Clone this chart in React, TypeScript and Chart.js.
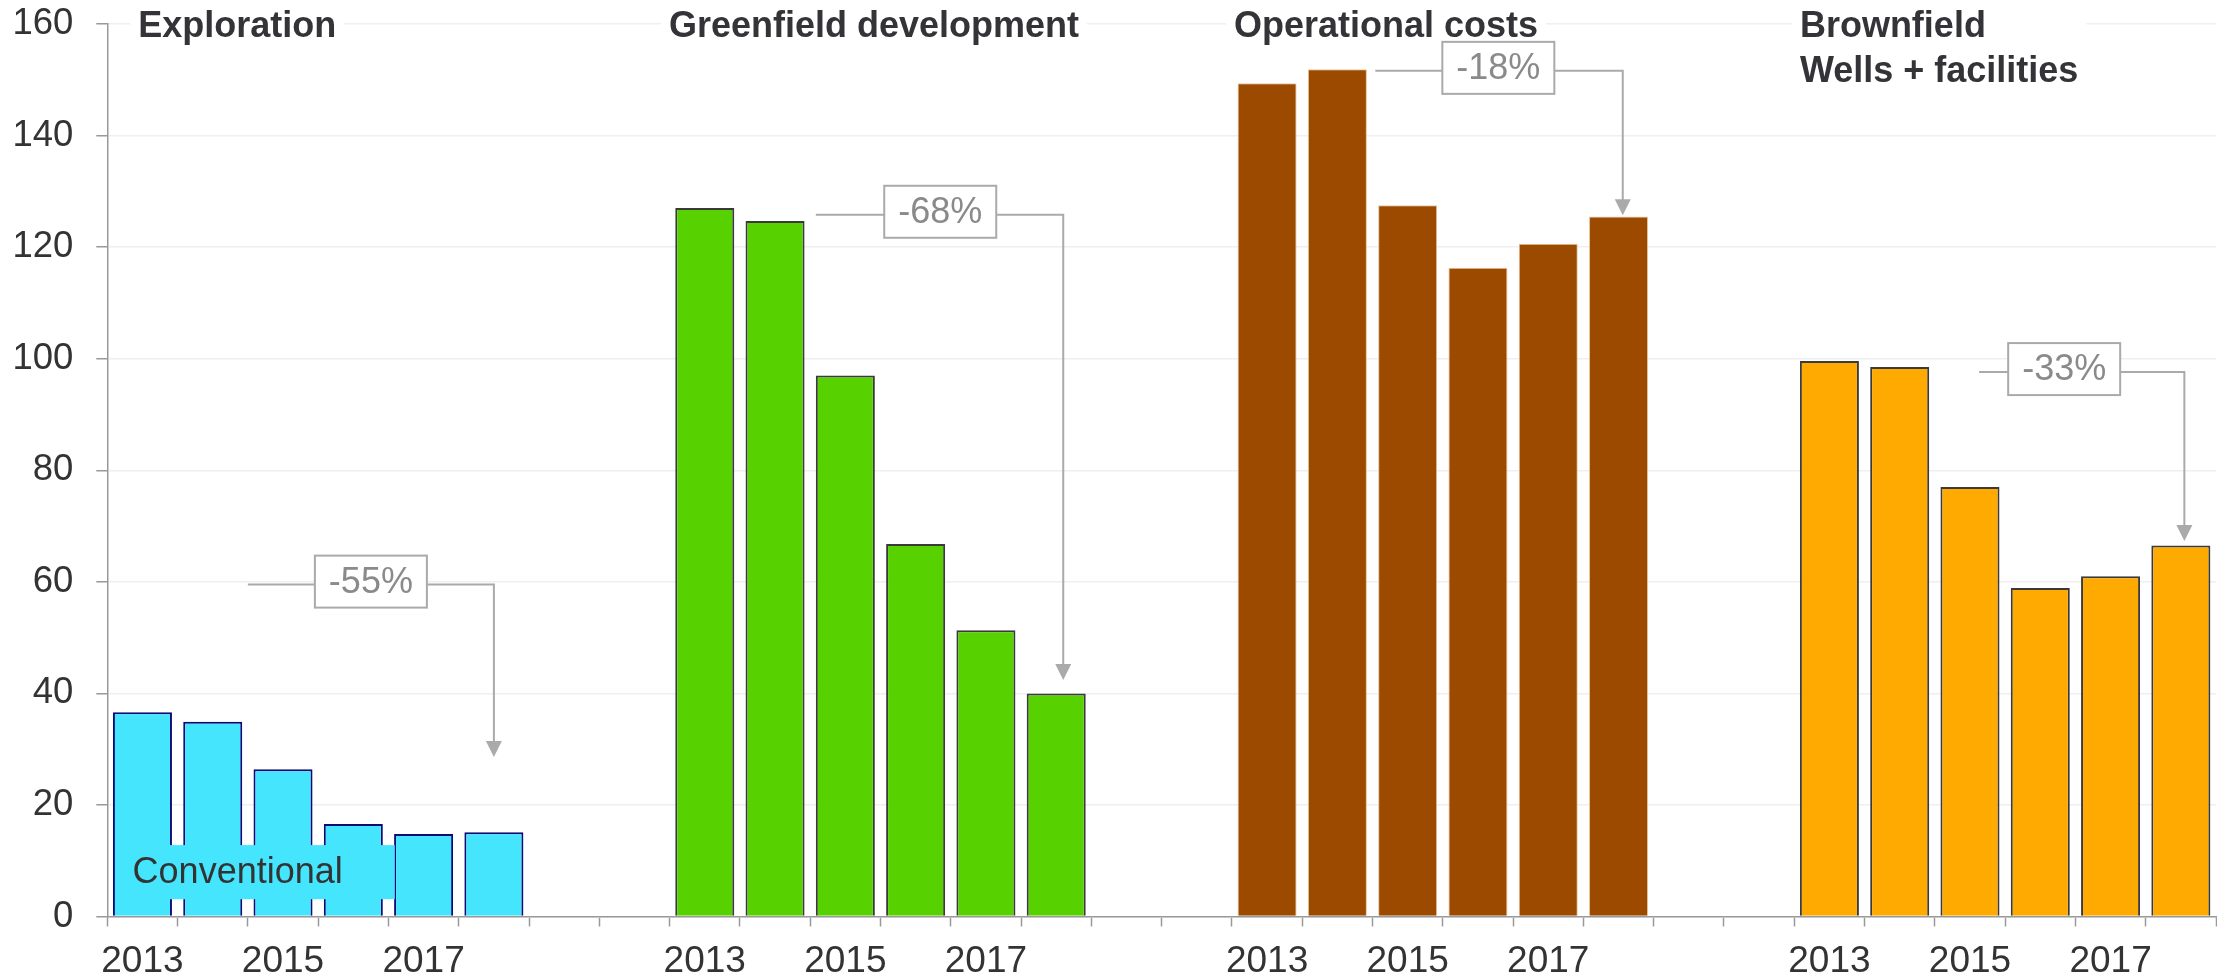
import React, { useEffect, useRef } from "react";
import { Chart, registerables } from "chart.js";

Chart.register(...registerables);

// ---------- data ----------
const years = ["2013", "2014", "2015", "2016", "2017", "2018"];
const shownYears = ["2013", "2015", "2017"];
const exploration = [36.6, 34.9, 26.4, 16.6, 14.8, 15.1];
const greenfield = [127.0, 124.7, 97.0, 66.8, 51.3, 40.0];
const operational = [149.4, 151.9, 127.5, 116.3, 120.6, 125.5];
const brownfield = [99.6, 98.5, 77.0, 58.9, 61.0, 66.5];
const groupTitles = [
  ["Exploration"],
  ["Greenfield development"],
  ["Operational costs"],
  ["Brownfield", "Wells + facilities"],
];
const yTicks = [0, 20, 40, 60, 80, 100, 120, 140, 160];
const gapSlots = 2;

// change annotations (category-index / value coordinates)
const changeLabels = ["-55%", "-68%", "-18%", "-33%"];
const changeLineValue = [59.5, 125.8, 151.6, 97.6];
const changeStartIdx = [1.5, 9.58, 17.54, 26.13];
const changeBoxIdx = [3.25, 11.35, 19.29, 27.34];
const changeArrowIdx = [5, 13.1, 21.06, 29.05];
const changeTipValue = [28.6, 42.4, 125.7, 67.3];

// titles (category-index position of the left edge)
const titleIdx = [-0.06, 7.49, 15.53, 23.58];

// "Conventional" label
const convLabel = "Conventional";
const convBoxIdx = [-0.32, 3.59];
const convBoxVal = [3.1, 12.8];
const convTextIdx = -0.14;
const convTextVal = 7.7;

// ---------- styles ----------
const fillColors = ["#45E5FD", "#57D200", "#9B4A00", "#FFAA00"];
const borderColors = ["#0A0A78", "#3A3A3A", "#E6C49A", "#3A3A3A"];
const borderWidths = [2, 2, 1, 2];
const FONT = "'Liberation Sans', Arial, Helvetica, sans-serif";

const groups = [exploration, greenfield, operational, brownfield];
const labels: string[] = [];
const values: (number | null)[] = [];
const bg: string[] = [];
const bc: string[] = [];
const bw: number[] = [];
groups.forEach((g, gi) => {
  g.forEach((v, i) => {
    labels.push(years[i]);
    values.push(v);
    bg.push(fillColors[gi]);
    bc.push(borderColors[gi]);
    bw.push(borderWidths[gi]);
  });
  if (gi < groups.length - 1) {
    for (let k = 0; k < gapSlots; k++) {
      labels.push("");
      values.push(null);
      bg.push("rgba(0,0,0,0)");
      bc.push("rgba(0,0,0,0)");
      bw.push(0);
    }
  }
});

const annotPlugin = {
  id: "annots",
  afterDraw(chart: any) {
    const { ctx } = chart;
    const xs = chart.scales.x;
    const ys = chart.scales.y;
    ctx.save();

    // Conventional label
    const bx0 = xs.getPixelForValue(convBoxIdx[0]);
    const bx1 = xs.getPixelForValue(convBoxIdx[1]);
    const by0 = ys.getPixelForValue(convBoxVal[1]);
    const by1 = ys.getPixelForValue(convBoxVal[0]);
    ctx.fillStyle = fillColors[0];
    ctx.fillRect(bx0, by0, bx1 - bx0, by1 - by0);
    ctx.fillStyle = "#333333";
    ctx.font = `36px ${FONT}`;
    ctx.textAlign = "left";
    ctx.textBaseline = "middle";
    ctx.fillText(convLabel, xs.getPixelForValue(convTextIdx), ys.getPixelForValue(convTextVal));

    // Titles
    const yTop = ys.getPixelForValue(160);
    ctx.font = `bold 36px ${FONT}`;
    ctx.textBaseline = "alphabetic";
    groupTitles.forEach((lines, gi) => {
      const tx = xs.getPixelForValue(titleIdx[gi]);
      const w = Math.max(...lines.map((l) => ctx.measureText(l).width));
      ctx.fillStyle = "#ffffff";
      ctx.fillRect(tx - 8, yTop - 14, w + 16, 28);
      ctx.fillStyle = "#333338";
      lines.forEach((l, li) => {
        ctx.fillText(l, tx, yTop + 12.5 + li * 45.7);
      });
    });

    // Change annotations
    ctx.lineWidth = 2;
    changeLabels.forEach((lab, i) => {
      const ly = ys.getPixelForValue(changeLineValue[i]);
      const sx = xs.getPixelForValue(changeStartIdx[i]);
      const ax = xs.getPixelForValue(changeArrowIdx[i]);
      const tipY = ys.getPixelForValue(changeTipValue[i]);
      const headH = 16;
      const headW = 16;
      ctx.strokeStyle = "#AAAAAA";
      ctx.beginPath();
      ctx.moveTo(sx, ly);
      ctx.lineTo(ax, ly);
      ctx.lineTo(ax, tipY - headH + 1);
      ctx.stroke();
      ctx.fillStyle = "#AAAAAA";
      ctx.beginPath();
      ctx.moveTo(ax - headW / 2, tipY - headH);
      ctx.lineTo(ax + headW / 2, tipY - headH);
      ctx.lineTo(ax, tipY);
      ctx.closePath();
      ctx.fill();

      const cx = xs.getPixelForValue(changeBoxIdx[i]);
      const cy = ly - 3;
      const bwid = 112;
      const bh = 52;
      ctx.fillStyle = "#ffffff";
      ctx.fillRect(cx - bwid / 2, cy - bh / 2, bwid, bh);
      ctx.strokeStyle = "#AAAAAA";
      ctx.strokeRect(cx - bwid / 2, cy - bh / 2, bwid, bh);
      ctx.fillStyle = "#8A8A8A";
      ctx.font = `36px ${FONT}`;
      ctx.textAlign = "center";
      ctx.textBaseline = "middle";
      ctx.fillText(lab, cx, cy + 1);
    });

    ctx.restore();
  },
};

export default function App() {
  const ref = useRef<HTMLCanvasElement | null>(null);

  useEffect(() => {
    if (!ref.current) return;
    const chart = new Chart(ref.current, {
      type: "bar",
      data: {
        labels,
        datasets: [
          {
            data: values as any,
            backgroundColor: bg,
            borderColor: bc,
            borderWidth: bw,
            barPercentage: 0.84,
            categoryPercentage: 1,
          },
        ],
      },
      options: {
        animation: false,
        responsive: false,
        devicePixelRatio: 1,
        layout: { padding: { top: 24, right: 1, left: 0, bottom: 0 } },
        plugins: {
          legend: { display: false },
          tooltip: { enabled: false },
        },
        scales: {
          x: {
            grid: {
              display: true,
              drawOnChartArea: false,
              drawTicks: true,
              tickLength: 10,
              tickColor: "#999999",
              tickWidth: 1.5,
              offset: true,
            },
            border: { display: true, color: "#999999", width: 1.5, z: 1 },
            ticks: {
              autoSkip: false,
              maxRotation: 0,
              minRotation: 0,
              padding: 13,
              color: "#333333",
              font: { family: FONT, size: 37 },
              callback: function (this: any, value: any) {
                const l = this.getLabelForValue(value);
                return shownYears.includes(l) ? l : "";
              },
            },
            afterFit: (s: any) => {
              s.height = 61.5;
            },
          },
          y: {
            min: yTicks[0],
            max: yTicks[yTicks.length - 1],
            afterBuildTicks: (s: any) => {
              s.ticks = yTicks.map((v) => ({ value: v }));
            },
            grid: {
              color: "#EFEFEF",
              lineWidth: 1.5,
              drawTicks: true,
              tickLength: 11,
              tickColor: "#999999",
              tickWidth: 1.5,
            },
            border: { display: true, color: "#999999", width: 1.5, z: 1 },
            ticks: {
              padding: 23,
              color: "#333333",
              font: { family: FONT, size: 36.5 },
            },
            afterFit: (s: any) => {
              s.width = 107.3;
              s.paddingTop = 0;
              s.paddingBottom = 0;
            },
          },
        },
      },
      plugins: [annotPlugin],
    });
    return () => chart.destroy();
  }, []);

  return (
    <div style={{ position: "absolute", left: 0, top: 0, width: 2217, height: 978, background: "#ffffff" }}>
      <canvas ref={ref} width={2217} height={978} />
    </div>
  );
}
